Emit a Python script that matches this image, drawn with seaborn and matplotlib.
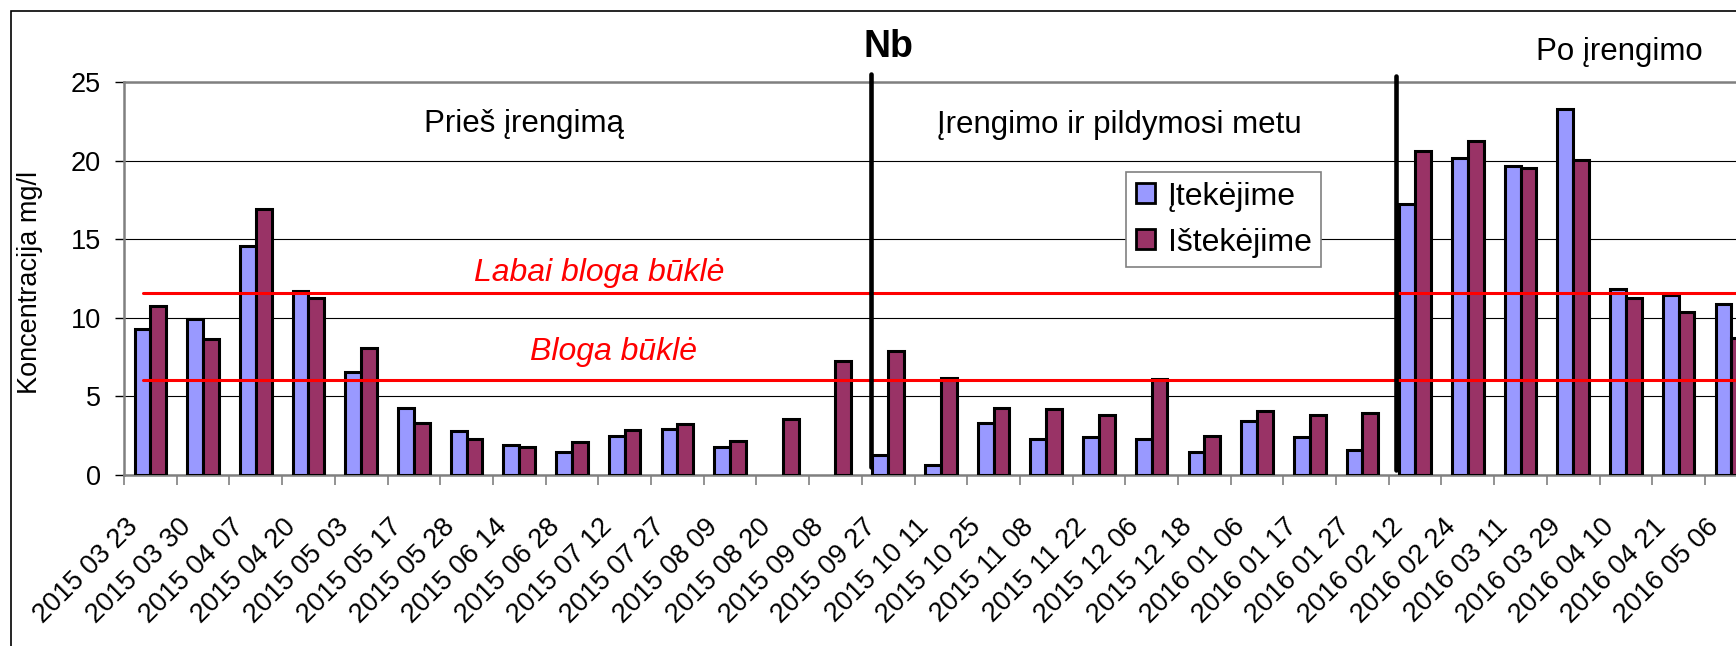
import matplotlib
matplotlib.use("Agg")
import matplotlib.pyplot as plt
import numpy as np
import pandas as pd
import seaborn as sns
from matplotlib.patches import Patch, Rectangle

dates = [
    "2015 03 23", "2015 03 30", "2015 04 07", "2015 04 20", "2015 05 03",
    "2015 05 17", "2015 05 28", "2015 06 14", "2015 06 28", "2015 07 12",
    "2015 07 27", "2015 08 09", "2015 08 20", "2015 09 08", "2015 09 27",
    "2015 10 11", "2015 10 25", "2015 11 08", "2015 11 22", "2015 12 06",
    "2015 12 18", "2016 01 06", "2016 01 17", "2016 01 27", "2016 02 12",
    "2016 02 24", "2016 03 11", "2016 03 29", "2016 04 10", "2016 04 21",
    "2016 05 06",
]
itekejime = [
    9.3, 9.95, 14.55, 11.7, 6.57, 4.26, 2.8, 1.89, 1.46, 2.48,
    2.9, 1.8, np.nan, np.nan, 1.25, 0.64, 3.33, 2.27, 2.44, 2.27,
    1.48, 3.43, 2.4, 1.59, 17.24, 20.14, 19.66, 23.28, 11.85, 11.43,
    10.86,
]
istekejime = [
    10.75, 8.63, 16.94, 11.26, 8.1, 3.31, 2.27, 1.76, 2.12, 2.86,
    3.22, 2.18, 3.56, 7.25, 7.89, 6.19, 4.24, 4.2, 3.82, 6.09,
    2.48, 4.07, 3.82, 3.92, 20.63, 21.23, 19.55, 20.02, 11.24, 10.35,
    8.69,
]
series_names = ["Įtekėjime", "Ištekėjime"]
series_colors = ["#9999FF", "#993366"]
limits = [11.6, 6.05]
limit_labels = ["Labai bloga būklė", "Bloga būklė"]
periods = ["Prieš įrengimą", "Įrengimo ir pildymosi metu", "Po įrengimo"]

df = pd.DataFrame({
    "data": dates * 2,
    "serija": [series_names[0]] * len(dates) + [series_names[1]] * len(dates),
    "konc": itekejime + istekejime,
})

sns.set_style("white")
plt.rcParams["font.family"] = ["Liberation Sans", "DejaVu Sans"]
plt.rcParams["text.color"] = "black"
plt.rcParams["axes.labelcolor"] = "black"
plt.rcParams["xtick.color"] = "black"
plt.rcParams["ytick.color"] = "black"

W, H = 1736, 646
fig = plt.figure(figsize=(W / 100, H / 100), dpi=100)
# axes runs past the right edge, like the cropped original
ax = fig.add_axes([124 / W, 1 - 475 / H, 31 * 52.7 / W, (475 - 82) / H])

sns.barplot(data=df, x="data", y="konc", hue="serija", hue_order=series_names,
            palette=series_colors, width=0.6, errorbar=None, edgecolor="black",
            linewidth=2.2, saturation=1, legend=False, ax=ax, zorder=3)

ax.set_xlim(-0.5, 30.5)
ax.set_ylim(0, 25)
ax.set_yticks(range(0, 26, 5))
ax.yaxis.grid(True, color="black", lw=0.8)
ax.xaxis.grid(False)
ax.set_axisbelow(True)
for side in ["top", "left", "bottom"]:
    ax.spines[side].set_color("#808080")
    ax.spines[side].set_linewidth(1.8)
ax.spines["right"].set_visible(False)

ax.tick_params(axis="y", left=True, length=6.5, width=1, color="black",
               labelcolor="black", labelsize=19.5, pad=10)
ax.set_xticks(np.arange(len(dates)) - 0.48)
ax.set_xticklabels(dates, rotation=45, ha="right", va="top",
                   rotation_mode="anchor", fontsize=19.5, color="black")
ax.set_xticks(np.arange(-0.5, len(dates)), minor=True)
ax.tick_params(axis="x", which="major", bottom=True, length=0, pad=28)
ax.tick_params(axis="x", which="minor", bottom=True, length=7, width=1.2,
               color="#808080")
ax.set_xlabel("")
ax.set_ylabel("Koncentracija mg/l", fontsize=19.5, color="black")
ax.yaxis.set_label_coords(-0.0496, 0.49)

# state limits
for v in limits:
    ax.plot([-0.14, 30.5], [v, v], color="red", lw=2.2, zorder=4)
ax.text(8.51, 12.34, limit_labels[0], color="red", style="italic",
        fontsize=23, ha="center", va="baseline")
ax.text(8.78, 7.3, limit_labels[1], color="red", style="italic",
        fontsize=23, ha="center", va="baseline")

# period dividers
ax.plot([13.67, 13.67], [0.5, 25.5], color="black", lw=3.3, zorder=5, clip_on=False)
ax.plot([23.63, 23.63], [0.3, 25.4], color="black", lw=3.3, zorder=5, clip_on=False)
ax.text(7.09, 21.8, periods[0], fontsize=22.5, ha="center", va="baseline")
ax.text(18.38, 21.75, periods[1], fontsize=22.5, ha="center", va="baseline")
ax.text(27.87, 26.4, periods[2], fontsize=22.5, ha="center", va="baseline",
        clip_on=False)
ax.text(14.0, 26.6, "Nb", fontsize=27, fontweight="bold", ha="center",
        va="baseline", clip_on=False)

handles = [Patch(facecolor=c, edgecolor="black", lw=2) for c in series_colors]
leg = ax.legend(handles, series_names, loc="upper left",
                bbox_to_anchor=(1126 / W, 1 - 172 / H), bbox_transform=fig.transFigure,
                fontsize=23, frameon=True, fancybox=False, edgecolor="#808080",
                framealpha=1, borderaxespad=0, borderpad=0.3, handlelength=0.6,
                handleheight=0.6, handletextpad=0.4, labelspacing=0.5)
leg.get_frame().set_linewidth(1.2)
leg.set_zorder(6)

# outer chart frame (right and bottom fall outside the picture)
fig.add_artist(Rectangle((11 / W, -0.5), 2, 1.5 - 11 / H, transform=fig.transFigure,
                         fill=False, ec="black", lw=1.2))

fig.savefig("out.png", dpi=100)
